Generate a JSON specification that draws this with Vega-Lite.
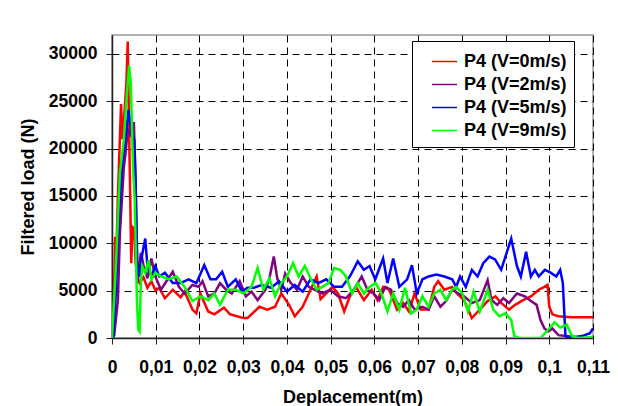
{
  "$schema": "https://vega.github.io/schema/vega-lite/v6.json",
  "width": 481,
  "height": 303,
  "autosize": {"type": "none"},
  "padding": {"left": 112, "top": 35, "right": 25, "bottom": 68},
  "background": "white",
  "config": {
    "font": "Liberation Sans",
    "view": {"stroke": "#9a9a9a", "strokeWidth": 1.5},
    "axis": {
      "domainColor": "#222222",
      "domainWidth": 1.5,
      "tickColor": "#222222",
      "tickSize": 6,
      "tickWidth": 1,
      "labelFontSize": 17.5,
      "labelFontWeight": "bold",
      "labelColor": "#000000",
      "titleFontSize": 18,
      "titleFontWeight": "bold",
      "titleColor": "#000000"
    }
  },
  "data": {
    "values": [
      {"s": "P4 (V=0m/s)", "x": 0, "y": 0},
      {"s": "P4 (V=0m/s)", "x": 0.00045, "y": 4000},
      {"s": "P4 (V=0m/s)", "x": 0.00072, "y": 10700},
      {"s": "P4 (V=0m/s)", "x": 0.0009, "y": 7000},
      {"s": "P4 (V=0m/s)", "x": 0.00135, "y": 15000},
      {"s": "P4 (V=0m/s)", "x": 0.0018, "y": 21000},
      {"s": "P4 (V=0m/s)", "x": 0.00207, "y": 24700},
      {"s": "P4 (V=0m/s)", "x": 0.00235, "y": 21000},
      {"s": "P4 (V=0m/s)", "x": 0.0028, "y": 23500},
      {"s": "P4 (V=0m/s)", "x": 0.0033, "y": 27000},
      {"s": "P4 (V=0m/s)", "x": 0.0036, "y": 31300},
      {"s": "P4 (V=0m/s)", "x": 0.0039, "y": 22000},
      {"s": "P4 (V=0m/s)", "x": 0.0042, "y": 14000},
      {"s": "P4 (V=0m/s)", "x": 0.0044, "y": 7900},
      {"s": "P4 (V=0m/s)", "x": 0.0047, "y": 11700},
      {"s": "P4 (V=0m/s)", "x": 0.0051, "y": 11500},
      {"s": "P4 (V=0m/s)", "x": 0.0054, "y": 8000},
      {"s": "P4 (V=0m/s)", "x": 0.0058, "y": 6500},
      {"s": "P4 (V=0m/s)", "x": 0.0063, "y": 5800},
      {"s": "P4 (V=0m/s)", "x": 0.0072, "y": 6400},
      {"s": "P4 (V=0m/s)", "x": 0.0081, "y": 5300},
      {"s": "P4 (V=0m/s)", "x": 0.009, "y": 6000},
      {"s": "P4 (V=0m/s)", "x": 0.00998, "y": 5000},
      {"s": "P4 (V=0m/s)", "x": 0.0108, "y": 5300},
      {"s": "P4 (V=0m/s)", "x": 0.0121, "y": 4200},
      {"s": "P4 (V=0m/s)", "x": 0.0139, "y": 5100},
      {"s": "P4 (V=0m/s)", "x": 0.0157, "y": 4300},
      {"s": "P4 (V=0m/s)", "x": 0.0166, "y": 4900},
      {"s": "P4 (V=0m/s)", "x": 0.0184, "y": 3000},
      {"s": "P4 (V=0m/s)", "x": 0.0193, "y": 2600},
      {"s": "P4 (V=0m/s)", "x": 0.0202, "y": 4700},
      {"s": "P4 (V=0m/s)", "x": 0.022, "y": 2800},
      {"s": "P4 (V=0m/s)", "x": 0.0234, "y": 2500},
      {"s": "P4 (V=0m/s)", "x": 0.0256, "y": 3200},
      {"s": "P4 (V=0m/s)", "x": 0.027, "y": 2500},
      {"s": "P4 (V=0m/s)", "x": 0.0301, "y": 2100},
      {"s": "P4 (V=0m/s)", "x": 0.031, "y": 2100},
      {"s": "P4 (V=0m/s)", "x": 0.0337, "y": 3300},
      {"s": "P4 (V=0m/s)", "x": 0.0355, "y": 3000},
      {"s": "P4 (V=0m/s)", "x": 0.0373, "y": 3300},
      {"s": "P4 (V=0m/s)", "x": 0.0387, "y": 4700},
      {"s": "P4 (V=0m/s)", "x": 0.0405, "y": 3500},
      {"s": "P4 (V=0m/s)", "x": 0.0418, "y": 2300},
      {"s": "P4 (V=0m/s)", "x": 0.0436, "y": 3300},
      {"s": "P4 (V=0m/s)", "x": 0.0454, "y": 5100},
      {"s": "P4 (V=0m/s)", "x": 0.0468, "y": 6500},
      {"s": "P4 (V=0m/s)", "x": 0.0477, "y": 4100},
      {"s": "P4 (V=0m/s)", "x": 0.049, "y": 4700},
      {"s": "P4 (V=0m/s)", "x": 0.0504, "y": 5400},
      {"s": "P4 (V=0m/s)", "x": 0.0517, "y": 4700},
      {"s": "P4 (V=0m/s)", "x": 0.0531, "y": 2800},
      {"s": "P4 (V=0m/s)", "x": 0.0544, "y": 4400},
      {"s": "P4 (V=0m/s)", "x": 0.0558, "y": 5400},
      {"s": "P4 (V=0m/s)", "x": 0.0576, "y": 4000},
      {"s": "P4 (V=0m/s)", "x": 0.0594, "y": 5100},
      {"s": "P4 (V=0m/s)", "x": 0.0607, "y": 4000},
      {"s": "P4 (V=0m/s)", "x": 0.062, "y": 5400},
      {"s": "P4 (V=0m/s)", "x": 0.0634, "y": 5100},
      {"s": "P4 (V=0m/s)", "x": 0.0643, "y": 4000},
      {"s": "P4 (V=0m/s)", "x": 0.0652, "y": 3000},
      {"s": "P4 (V=0m/s)", "x": 0.0666, "y": 3700},
      {"s": "P4 (V=0m/s)", "x": 0.0679, "y": 2800},
      {"s": "P4 (V=0m/s)", "x": 0.0692, "y": 4700},
      {"s": "P4 (V=0m/s)", "x": 0.0706, "y": 3000},
      {"s": "P4 (V=0m/s)", "x": 0.0724, "y": 3000},
      {"s": "P4 (V=0m/s)", "x": 0.0737, "y": 5400},
      {"s": "P4 (V=0m/s)", "x": 0.0746, "y": 6000},
      {"s": "P4 (V=0m/s)", "x": 0.076, "y": 5100},
      {"s": "P4 (V=0m/s)", "x": 0.0778, "y": 5400},
      {"s": "P4 (V=0m/s)", "x": 0.0791, "y": 4600},
      {"s": "P4 (V=0m/s)", "x": 0.0805, "y": 4000},
      {"s": "P4 (V=0m/s)", "x": 0.0823, "y": 2100},
      {"s": "P4 (V=0m/s)", "x": 0.0841, "y": 3000},
      {"s": "P4 (V=0m/s)", "x": 0.0859, "y": 3900},
      {"s": "P4 (V=0m/s)", "x": 0.0877, "y": 4400},
      {"s": "P4 (V=0m/s)", "x": 0.089, "y": 3700},
      {"s": "P4 (V=0m/s)", "x": 0.0908, "y": 3000},
      {"s": "P4 (V=0m/s)", "x": 0.0922, "y": 3500},
      {"s": "P4 (V=0m/s)", "x": 0.094, "y": 4000},
      {"s": "P4 (V=0m/s)", "x": 0.0958, "y": 4400},
      {"s": "P4 (V=0m/s)", "x": 0.0976, "y": 5100},
      {"s": "P4 (V=0m/s)", "x": 0.0989, "y": 5400},
      {"s": "P4 (V=0m/s)", "x": 0.0996, "y": 5600},
      {"s": "P4 (V=0m/s)", "x": 0.1, "y": 3300},
      {"s": "P4 (V=0m/s)", "x": 0.1007, "y": 2500},
      {"s": "P4 (V=0m/s)", "x": 0.1021, "y": 2300},
      {"s": "P4 (V=0m/s)", "x": 0.1048, "y": 2200},
      {"s": "P4 (V=0m/s)", "x": 0.11, "y": 2200},

      {"s": "P4 (V=2m/s)", "x": 0, "y": 0},
      {"s": "P4 (V=2m/s)", "x": 0.0005, "y": 300},
      {"s": "P4 (V=2m/s)", "x": 0.00135, "y": 4000},
      {"s": "P4 (V=2m/s)", "x": 0.0018, "y": 11000},
      {"s": "P4 (V=2m/s)", "x": 0.0027, "y": 18000},
      {"s": "P4 (V=2m/s)", "x": 0.0031, "y": 19500},
      {"s": "P4 (V=2m/s)", "x": 0.0036, "y": 22000},
      {"s": "P4 (V=2m/s)", "x": 0.0042, "y": 21500},
      {"s": "P4 (V=2m/s)", "x": 0.005, "y": 22800},
      {"s": "P4 (V=2m/s)", "x": 0.0054, "y": 16300},
      {"s": "P4 (V=2m/s)", "x": 0.0058, "y": 5800},
      {"s": "P4 (V=2m/s)", "x": 0.0066, "y": 9000},
      {"s": "P4 (V=2m/s)", "x": 0.0072, "y": 7700},
      {"s": "P4 (V=2m/s)", "x": 0.0081, "y": 6300},
      {"s": "P4 (V=2m/s)", "x": 0.009, "y": 8400},
      {"s": "P4 (V=2m/s)", "x": 0.0099, "y": 6500},
      {"s": "P4 (V=2m/s)", "x": 0.0112, "y": 5100},
      {"s": "P4 (V=2m/s)", "x": 0.0126, "y": 6100},
      {"s": "P4 (V=2m/s)", "x": 0.0139, "y": 7000},
      {"s": "P4 (V=2m/s)", "x": 0.0153, "y": 5400},
      {"s": "P4 (V=2m/s)", "x": 0.0166, "y": 4700},
      {"s": "P4 (V=2m/s)", "x": 0.0184, "y": 5600},
      {"s": "P4 (V=2m/s)", "x": 0.0198, "y": 5400},
      {"s": "P4 (V=2m/s)", "x": 0.0207, "y": 6000},
      {"s": "P4 (V=2m/s)", "x": 0.022, "y": 4400},
      {"s": "P4 (V=2m/s)", "x": 0.0234, "y": 4700},
      {"s": "P4 (V=2m/s)", "x": 0.0247, "y": 5800},
      {"s": "P4 (V=2m/s)", "x": 0.0261, "y": 5100},
      {"s": "P4 (V=2m/s)", "x": 0.0274, "y": 4700},
      {"s": "P4 (V=2m/s)", "x": 0.0292, "y": 6000},
      {"s": "P4 (V=2m/s)", "x": 0.0306, "y": 4400},
      {"s": "P4 (V=2m/s)", "x": 0.0319, "y": 4900},
      {"s": "P4 (V=2m/s)", "x": 0.0333, "y": 4000},
      {"s": "P4 (V=2m/s)", "x": 0.0351, "y": 5100},
      {"s": "P4 (V=2m/s)", "x": 0.036, "y": 6300},
      {"s": "P4 (V=2m/s)", "x": 0.037, "y": 8600},
      {"s": "P4 (V=2m/s)", "x": 0.0378, "y": 6300},
      {"s": "P4 (V=2m/s)", "x": 0.0387, "y": 5100},
      {"s": "P4 (V=2m/s)", "x": 0.0396, "y": 6800},
      {"s": "P4 (V=2m/s)", "x": 0.0409, "y": 5800},
      {"s": "P4 (V=2m/s)", "x": 0.0423, "y": 5100},
      {"s": "P4 (V=2m/s)", "x": 0.0436, "y": 6500},
      {"s": "P4 (V=2m/s)", "x": 0.045, "y": 5400},
      {"s": "P4 (V=2m/s)", "x": 0.0463, "y": 5100},
      {"s": "P4 (V=2m/s)", "x": 0.0481, "y": 4700},
      {"s": "P4 (V=2m/s)", "x": 0.0499, "y": 5100},
      {"s": "P4 (V=2m/s)", "x": 0.0517, "y": 4400},
      {"s": "P4 (V=2m/s)", "x": 0.0535, "y": 4200},
      {"s": "P4 (V=2m/s)", "x": 0.0553, "y": 5100},
      {"s": "P4 (V=2m/s)", "x": 0.0571, "y": 6500},
      {"s": "P4 (V=2m/s)", "x": 0.0584, "y": 5100},
      {"s": "P4 (V=2m/s)", "x": 0.0598, "y": 4700},
      {"s": "P4 (V=2m/s)", "x": 0.0611, "y": 4000},
      {"s": "P4 (V=2m/s)", "x": 0.0625, "y": 5400},
      {"s": "P4 (V=2m/s)", "x": 0.0638, "y": 5100},
      {"s": "P4 (V=2m/s)", "x": 0.0652, "y": 3700},
      {"s": "P4 (V=2m/s)", "x": 0.0666, "y": 3300},
      {"s": "P4 (V=2m/s)", "x": 0.0679, "y": 4000},
      {"s": "P4 (V=2m/s)", "x": 0.0692, "y": 3000},
      {"s": "P4 (V=2m/s)", "x": 0.071, "y": 3300},
      {"s": "P4 (V=2m/s)", "x": 0.0724, "y": 3000},
      {"s": "P4 (V=2m/s)", "x": 0.0737, "y": 4400},
      {"s": "P4 (V=2m/s)", "x": 0.0751, "y": 3300},
      {"s": "P4 (V=2m/s)", "x": 0.0764, "y": 3900},
      {"s": "P4 (V=2m/s)", "x": 0.0778, "y": 5100},
      {"s": "P4 (V=2m/s)", "x": 0.0791, "y": 4700},
      {"s": "P4 (V=2m/s)", "x": 0.0805, "y": 4400},
      {"s": "P4 (V=2m/s)", "x": 0.0823, "y": 3700},
      {"s": "P4 (V=2m/s)", "x": 0.0841, "y": 4000},
      {"s": "P4 (V=2m/s)", "x": 0.0859, "y": 6100},
      {"s": "P4 (V=2m/s)", "x": 0.0868, "y": 4000},
      {"s": "P4 (V=2m/s)", "x": 0.0881, "y": 3500},
      {"s": "P4 (V=2m/s)", "x": 0.0895, "y": 4200},
      {"s": "P4 (V=2m/s)", "x": 0.0908, "y": 3700},
      {"s": "P4 (V=2m/s)", "x": 0.0926, "y": 4700},
      {"s": "P4 (V=2m/s)", "x": 0.0944, "y": 4400},
      {"s": "P4 (V=2m/s)", "x": 0.0958, "y": 3900},
      {"s": "P4 (V=2m/s)", "x": 0.0971, "y": 3500},
      {"s": "P4 (V=2m/s)", "x": 0.098, "y": 1900},
      {"s": "P4 (V=2m/s)", "x": 0.0989, "y": 1000},
      {"s": "P4 (V=2m/s)", "x": 0.0998, "y": 700},
      {"s": "P4 (V=2m/s)", "x": 0.1007, "y": 1000},
      {"s": "P4 (V=2m/s)", "x": 0.1021, "y": 300},
      {"s": "P4 (V=2m/s)", "x": 0.1039, "y": 200},
      {"s": "P4 (V=2m/s)", "x": 0.106, "y": 100},

      {"s": "P4 (V=5m/s)", "x": 0, "y": 0},
      {"s": "P4 (V=5m/s)", "x": 0.00027, "y": 0},
      {"s": "P4 (V=5m/s)", "x": 0.0009, "y": 5000},
      {"s": "P4 (V=5m/s)", "x": 0.00135, "y": 11000},
      {"s": "P4 (V=5m/s)", "x": 0.00225, "y": 18000},
      {"s": "P4 (V=5m/s)", "x": 0.003, "y": 20900},
      {"s": "P4 (V=5m/s)", "x": 0.0038, "y": 24100},
      {"s": "P4 (V=5m/s)", "x": 0.0045, "y": 21600},
      {"s": "P4 (V=5m/s)", "x": 0.0051, "y": 20900},
      {"s": "P4 (V=5m/s)", "x": 0.0054, "y": 16300},
      {"s": "P4 (V=5m/s)", "x": 0.0058, "y": 7600},
      {"s": "P4 (V=5m/s)", "x": 0.0063, "y": 6500},
      {"s": "P4 (V=5m/s)", "x": 0.0069, "y": 8800},
      {"s": "P4 (V=5m/s)", "x": 0.0076, "y": 10500},
      {"s": "P4 (V=5m/s)", "x": 0.0081, "y": 7600},
      {"s": "P4 (V=5m/s)", "x": 0.009, "y": 6500},
      {"s": "P4 (V=5m/s)", "x": 0.0099, "y": 7600},
      {"s": "P4 (V=5m/s)", "x": 0.0108, "y": 6500},
      {"s": "P4 (V=5m/s)", "x": 0.0121, "y": 6900},
      {"s": "P4 (V=5m/s)", "x": 0.0139, "y": 5800},
      {"s": "P4 (V=5m/s)", "x": 0.0157, "y": 5800},
      {"s": "P4 (V=5m/s)", "x": 0.0175, "y": 6200},
      {"s": "P4 (V=5m/s)", "x": 0.0193, "y": 5800},
      {"s": "P4 (V=5m/s)", "x": 0.0211, "y": 7700},
      {"s": "P4 (V=5m/s)", "x": 0.0225, "y": 6200},
      {"s": "P4 (V=5m/s)", "x": 0.0238, "y": 6200},
      {"s": "P4 (V=5m/s)", "x": 0.0252, "y": 7000},
      {"s": "P4 (V=5m/s)", "x": 0.0265, "y": 5400},
      {"s": "P4 (V=5m/s)", "x": 0.0283, "y": 6200},
      {"s": "P4 (V=5m/s)", "x": 0.0297, "y": 4900},
      {"s": "P4 (V=5m/s)", "x": 0.031, "y": 5300},
      {"s": "P4 (V=5m/s)", "x": 0.0324, "y": 5300},
      {"s": "P4 (V=5m/s)", "x": 0.0342, "y": 5600},
      {"s": "P4 (V=5m/s)", "x": 0.0364, "y": 5300},
      {"s": "P4 (V=5m/s)", "x": 0.0382, "y": 6000},
      {"s": "P4 (V=5m/s)", "x": 0.04, "y": 4900},
      {"s": "P4 (V=5m/s)", "x": 0.0418, "y": 5600},
      {"s": "P4 (V=5m/s)", "x": 0.0436, "y": 4900},
      {"s": "P4 (V=5m/s)", "x": 0.0454, "y": 6200},
      {"s": "P4 (V=5m/s)", "x": 0.0472, "y": 5800},
      {"s": "P4 (V=5m/s)", "x": 0.049, "y": 6200},
      {"s": "P4 (V=5m/s)", "x": 0.0508, "y": 5400},
      {"s": "P4 (V=5m/s)", "x": 0.0526, "y": 5400},
      {"s": "P4 (V=5m/s)", "x": 0.0544, "y": 6500},
      {"s": "P4 (V=5m/s)", "x": 0.0562, "y": 8100},
      {"s": "P4 (V=5m/s)", "x": 0.0576, "y": 7200},
      {"s": "P4 (V=5m/s)", "x": 0.0589, "y": 7600},
      {"s": "P4 (V=5m/s)", "x": 0.0602, "y": 6200},
      {"s": "P4 (V=5m/s)", "x": 0.062, "y": 8400},
      {"s": "P4 (V=5m/s)", "x": 0.063, "y": 5800},
      {"s": "P4 (V=5m/s)", "x": 0.0643, "y": 8400},
      {"s": "P4 (V=5m/s)", "x": 0.0657, "y": 5400},
      {"s": "P4 (V=5m/s)", "x": 0.0675, "y": 6200},
      {"s": "P4 (V=5m/s)", "x": 0.0686, "y": 7700},
      {"s": "P4 (V=5m/s)", "x": 0.0697, "y": 4700},
      {"s": "P4 (V=5m/s)", "x": 0.071, "y": 6200},
      {"s": "P4 (V=5m/s)", "x": 0.0724, "y": 6500},
      {"s": "P4 (V=5m/s)", "x": 0.0742, "y": 6700},
      {"s": "P4 (V=5m/s)", "x": 0.076, "y": 6500},
      {"s": "P4 (V=5m/s)", "x": 0.0778, "y": 6200},
      {"s": "P4 (V=5m/s)", "x": 0.0787, "y": 5400},
      {"s": "P4 (V=5m/s)", "x": 0.0796, "y": 6500},
      {"s": "P4 (V=5m/s)", "x": 0.0809, "y": 5400},
      {"s": "P4 (V=5m/s)", "x": 0.0823, "y": 7200},
      {"s": "P4 (V=5m/s)", "x": 0.0836, "y": 6500},
      {"s": "P4 (V=5m/s)", "x": 0.0849, "y": 7900},
      {"s": "P4 (V=5m/s)", "x": 0.0863, "y": 8600},
      {"s": "P4 (V=5m/s)", "x": 0.0876, "y": 8300},
      {"s": "P4 (V=5m/s)", "x": 0.089, "y": 7200},
      {"s": "P4 (V=5m/s)", "x": 0.0913, "y": 10500},
      {"s": "P4 (V=5m/s)", "x": 0.0926, "y": 7600},
      {"s": "P4 (V=5m/s)", "x": 0.0935, "y": 6500},
      {"s": "P4 (V=5m/s)", "x": 0.0947, "y": 9100},
      {"s": "P4 (V=5m/s)", "x": 0.0958, "y": 6500},
      {"s": "P4 (V=5m/s)", "x": 0.0967, "y": 7200},
      {"s": "P4 (V=5m/s)", "x": 0.0976, "y": 6500},
      {"s": "P4 (V=5m/s)", "x": 0.099, "y": 7200},
      {"s": "P4 (V=5m/s)", "x": 0.1003, "y": 6900},
      {"s": "P4 (V=5m/s)", "x": 0.1016, "y": 6500},
      {"s": "P4 (V=5m/s)", "x": 0.1025, "y": 7200},
      {"s": "P4 (V=5m/s)", "x": 0.1031, "y": 5800},
      {"s": "P4 (V=5m/s)", "x": 0.1037, "y": 200},
      {"s": "P4 (V=5m/s)", "x": 0.1043, "y": 0},
      {"s": "P4 (V=5m/s)", "x": 0.1075, "y": 200},
      {"s": "P4 (V=5m/s)", "x": 0.1093, "y": 500},
      {"s": "P4 (V=5m/s)", "x": 0.11, "y": 1000},

      {"s": "P4 (V=9m/s)", "x": 0, "y": 0},
      {"s": "P4 (V=9m/s)", "x": 0.0009, "y": 7700},
      {"s": "P4 (V=9m/s)", "x": 0.0018, "y": 17400},
      {"s": "P4 (V=9m/s)", "x": 0.0027, "y": 20900},
      {"s": "P4 (V=9m/s)", "x": 0.0033, "y": 25100},
      {"s": "P4 (V=9m/s)", "x": 0.0039, "y": 28800},
      {"s": "P4 (V=9m/s)", "x": 0.0043, "y": 26900},
      {"s": "P4 (V=9m/s)", "x": 0.0048, "y": 18100},
      {"s": "P4 (V=9m/s)", "x": 0.0052, "y": 14600},
      {"s": "P4 (V=9m/s)", "x": 0.0057, "y": 4000},
      {"s": "P4 (V=9m/s)", "x": 0.006, "y": 900},
      {"s": "P4 (V=9m/s)", "x": 0.0063, "y": 700},
      {"s": "P4 (V=9m/s)", "x": 0.0066, "y": 5800},
      {"s": "P4 (V=9m/s)", "x": 0.0069, "y": 7600},
      {"s": "P4 (V=9m/s)", "x": 0.0076, "y": 6900},
      {"s": "P4 (V=9m/s)", "x": 0.0084, "y": 8200},
      {"s": "P4 (V=9m/s)", "x": 0.009, "y": 6200},
      {"s": "P4 (V=9m/s)", "x": 0.0099, "y": 6900},
      {"s": "P4 (V=9m/s)", "x": 0.0112, "y": 6500},
      {"s": "P4 (V=9m/s)", "x": 0.013, "y": 6200},
      {"s": "P4 (V=9m/s)", "x": 0.0148, "y": 6500},
      {"s": "P4 (V=9m/s)", "x": 0.0166, "y": 5400},
      {"s": "P4 (V=9m/s)", "x": 0.0184, "y": 3900},
      {"s": "P4 (V=9m/s)", "x": 0.0202, "y": 4400},
      {"s": "P4 (V=9m/s)", "x": 0.022, "y": 4000},
      {"s": "P4 (V=9m/s)", "x": 0.0234, "y": 4700},
      {"s": "P4 (V=9m/s)", "x": 0.0247, "y": 3500},
      {"s": "P4 (V=9m/s)", "x": 0.0265, "y": 5100},
      {"s": "P4 (V=9m/s)", "x": 0.0283, "y": 5100},
      {"s": "P4 (V=9m/s)", "x": 0.0301, "y": 4700},
      {"s": "P4 (V=9m/s)", "x": 0.0319, "y": 5400},
      {"s": "P4 (V=9m/s)", "x": 0.0333, "y": 7400},
      {"s": "P4 (V=9m/s)", "x": 0.0346, "y": 5100},
      {"s": "P4 (V=9m/s)", "x": 0.036, "y": 6300},
      {"s": "P4 (V=9m/s)", "x": 0.0373, "y": 4400},
      {"s": "P4 (V=9m/s)", "x": 0.0387, "y": 5800},
      {"s": "P4 (V=9m/s)", "x": 0.04, "y": 6500},
      {"s": "P4 (V=9m/s)", "x": 0.0414, "y": 7900},
      {"s": "P4 (V=9m/s)", "x": 0.0427, "y": 6500},
      {"s": "P4 (V=9m/s)", "x": 0.0441, "y": 7600},
      {"s": "P4 (V=9m/s)", "x": 0.0455, "y": 6200},
      {"s": "P4 (V=9m/s)", "x": 0.0468, "y": 5100},
      {"s": "P4 (V=9m/s)", "x": 0.0481, "y": 5400},
      {"s": "P4 (V=9m/s)", "x": 0.0495, "y": 5800},
      {"s": "P4 (V=9m/s)", "x": 0.0508, "y": 7400},
      {"s": "P4 (V=9m/s)", "x": 0.0522, "y": 7200},
      {"s": "P4 (V=9m/s)", "x": 0.0535, "y": 6500},
      {"s": "P4 (V=9m/s)", "x": 0.0549, "y": 4700},
      {"s": "P4 (V=9m/s)", "x": 0.0562, "y": 5800},
      {"s": "P4 (V=9m/s)", "x": 0.0576, "y": 4700},
      {"s": "P4 (V=9m/s)", "x": 0.0589, "y": 5400},
      {"s": "P4 (V=9m/s)", "x": 0.0603, "y": 5800},
      {"s": "P4 (V=9m/s)", "x": 0.0616, "y": 4700},
      {"s": "P4 (V=9m/s)", "x": 0.063, "y": 2800},
      {"s": "P4 (V=9m/s)", "x": 0.0643, "y": 4700},
      {"s": "P4 (V=9m/s)", "x": 0.0657, "y": 3000},
      {"s": "P4 (V=9m/s)", "x": 0.067, "y": 5300},
      {"s": "P4 (V=9m/s)", "x": 0.0684, "y": 2600},
      {"s": "P4 (V=9m/s)", "x": 0.0697, "y": 3000},
      {"s": "P4 (V=9m/s)", "x": 0.071, "y": 4400},
      {"s": "P4 (V=9m/s)", "x": 0.0724, "y": 3300},
      {"s": "P4 (V=9m/s)", "x": 0.0737, "y": 4700},
      {"s": "P4 (V=9m/s)", "x": 0.0751, "y": 5100},
      {"s": "P4 (V=9m/s)", "x": 0.0764, "y": 4000},
      {"s": "P4 (V=9m/s)", "x": 0.0778, "y": 5100},
      {"s": "P4 (V=9m/s)", "x": 0.0787, "y": 5400},
      {"s": "P4 (V=9m/s)", "x": 0.0801, "y": 4700},
      {"s": "P4 (V=9m/s)", "x": 0.0814, "y": 2800},
      {"s": "P4 (V=9m/s)", "x": 0.0827, "y": 4900},
      {"s": "P4 (V=9m/s)", "x": 0.0841, "y": 2800},
      {"s": "P4 (V=9m/s)", "x": 0.0859, "y": 5100},
      {"s": "P4 (V=9m/s)", "x": 0.0872, "y": 3000},
      {"s": "P4 (V=9m/s)", "x": 0.0886, "y": 2300},
      {"s": "P4 (V=9m/s)", "x": 0.09, "y": 2600},
      {"s": "P4 (V=9m/s)", "x": 0.0913, "y": 1900},
      {"s": "P4 (V=9m/s)", "x": 0.092, "y": 200},
      {"s": "P4 (V=9m/s)", "x": 0.0931, "y": 0},
      {"s": "P4 (V=9m/s)", "x": 0.098, "y": 0},
      {"s": "P4 (V=9m/s)", "x": 0.0998, "y": 900},
      {"s": "P4 (V=9m/s)", "x": 0.1012, "y": 1650},
      {"s": "P4 (V=9m/s)", "x": 0.1025, "y": 1100},
      {"s": "P4 (V=9m/s)", "x": 0.104, "y": 1400},
      {"s": "P4 (V=9m/s)", "x": 0.1052, "y": 200},
      {"s": "P4 (V=9m/s)", "x": 0.1066, "y": 0},
      {"s": "P4 (V=9m/s)", "x": 0.11, "y": 100}
    ]
  },
  "mark": {"type": "line", "strokeWidth": 2.5, "clip": true},
  "encoding": {
    "x": {
      "field": "x",
      "type": "quantitative",
      "scale": {"domain": [0, 0.11], "nice": false, "zero": false},
      "axis": {
        "title": "Deplacement(m)",
        "grid": true,
        "gridColor": "#000000",
        "gridDash": [7, 5],
        "gridWidth": 1,
        "gridOpacity": 1,
        "values": [0, 0.01, 0.02, 0.03, 0.04, 0.05, 0.06, 0.07, 0.08, 0.09, 0.1, 0.11],
        "labelExpr": "replace(format(datum.value, '.2~f'), '.', ',')",
        "labelPadding": 14,
        "titlePadding": 13,
        "labelFlush": false
      }
    },
    "y": {
      "field": "y",
      "type": "quantitative",
      "scale": {"domain": [0, 32000], "nice": false},
      "axis": {
        "title": "Filtered load (N)",
        "grid": true,
        "gridColor": "#000000",
        "gridDash": [7, 5],
        "gridWidth": 1,
        "gridOpacity": 1,
        "values": [0, 5000, 10000, 15000, 20000, 25000, 30000],
        "format": "d",
        "labelPadding": 9,
        "titlePadding": 11
      }
    },
    "color": {
      "field": "s",
      "type": "nominal",
      "sort": null,
      "scale": {
        "domain": ["P4 (V=0m/s)", "P4 (V=2m/s)", "P4 (V=5m/s)", "P4 (V=9m/s)"],
        "range": ["#ff0000", "#800080", "#0000ff", "#00ff00"]
      },
      "legend": {
        "title": null,
        "orient": "none",
        "legendX": 300,
        "legendY": 6,
        "strokeColor": "#000000",
        "fillColor": "#ffffff",
        "padding": 7,
        "symbolType": "stroke",
        "symbolSize": 625,
        "symbolStrokeWidth": 1.5,
        "symbolOffset": 12,
        "labelOffset": 6,
        "labelFontSize": 18,
        "labelFontWeight": "bold",
        "labelColor": "#000000",
        "labelExpr": "datum.label + '\u00a0\u00a0'",
        "rowPadding": 0
      }
    }
  }
}
